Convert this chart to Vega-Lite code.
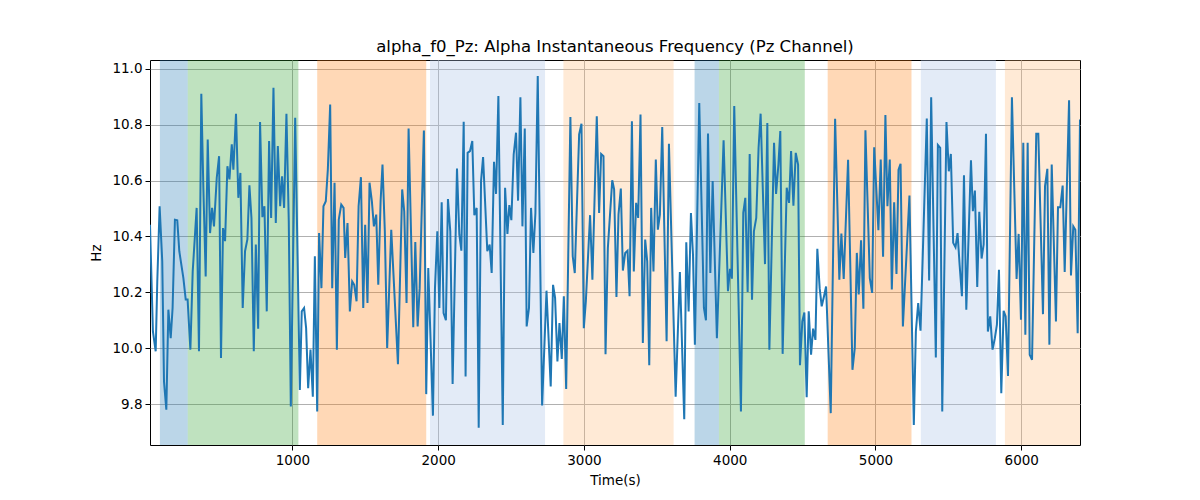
{
  "$schema": "https://vega.github.io/schema/vega-lite/v6.json",
  "width": 930,
  "height": 385,
  "autosize": {"type": "none"},
  "padding": {"left": 150, "top": 60, "right": 120, "bottom": 55},
  "background": "white",
  "title": {
    "text": "alpha_f0_Pz: Alpha Instantaneous Frequency (Pz Channel)",
    "font": "DejaVu Sans",
    "fontSize": 16.5,
    "fontWeight": "normal",
    "color": "black",
    "offset": 5
  },
  "config": {
    "view": {"stroke": "black", "strokeWidth": 1},
    "axis": {
      "labelFont": "DejaVu Sans",
      "labelFontSize": 13.5,
      "labelColor": "black",
      "titleFont": "DejaVu Sans",
      "titleFontSize": 13.5,
      "titleFontWeight": "normal",
      "titleColor": "black",
      "tickColor": "black",
      "tickSize": 5,
      "tickWidth": 1,
      "domain": false,
      "gridColor": "#b0b0b0",
      "gridWidth": 1,
      "labelPadding": 3
    }
  },
  "datasets": {
    "series": [
      {"t":23,"hz":10.442},{"t":43,"hz":10.060},{"t":62,"hz":9.989},{"t":73,"hz":10.239},{"t":89,"hz":10.508},{"t":107,"hz":10.311},{"t":119,"hz":9.881},{"t":135,"hz":9.780},{"t":149,"hz":10.138},{"t":165,"hz":10.036},{"t":178,"hz":10.144},{"t":194,"hz":10.460},{"t":210,"hz":10.458},{"t":224,"hz":10.347},{"t":252,"hz":10.251},{"t":268,"hz":10.174},{"t":281,"hz":10.174},{"t":300,"hz":9.995},{"t":316,"hz":10.275},{"t":343,"hz":10.502},{"t":359,"hz":9.989},{"t":375,"hz":10.910},{"t":389,"hz":10.574},{"t":405,"hz":10.257},{"t":419,"hz":10.747},{"t":435,"hz":10.412},{"t":449,"hz":10.502},{"t":462,"hz":10.436},{"t":481,"hz":10.610},{"t":497,"hz":10.687},{"t":510,"hz":9.965},{"t":524,"hz":10.430},{"t":538,"hz":10.383},{"t":554,"hz":10.651},{"t":568,"hz":10.604},{"t":584,"hz":10.729},{"t":595,"hz":10.639},{"t":613,"hz":10.839},{"t":629,"hz":10.538},{"t":643,"hz":10.627},{"t":659,"hz":10.144},{"t":675,"hz":10.347},{"t":691,"hz":10.389},{"t":705,"hz":10.583},{"t":719,"hz":10.466},{"t":735,"hz":9.989},{"t":749,"hz":10.371},{"t":765,"hz":10.070},{"t":778,"hz":10.809},{"t":794,"hz":10.469},{"t":808,"hz":10.508},{"t":824,"hz":10.132},
      {"t":840,"hz":10.741},{"t":854,"hz":10.466},{"t":870,"hz":10.932},{"t":886,"hz":10.448},{"t":900,"hz":10.723},{"t":916,"hz":10.508},{"t":929,"hz":10.615},{"t":943,"hz":10.502},{"t":959,"hz":10.839},{"t":975,"hz":10.454},{"t":989,"hz":9.792},{"t":1019,"hz":10.824},{"t":1051,"hz":9.851},{"t":1064,"hz":10.132},{"t":1080,"hz":10.144},{"t":1094,"hz":10.072},{"t":1108,"hz":9.857},{"t":1124,"hz":9.995},{"t":1140,"hz":9.827},{"t":1154,"hz":10.329},{"t":1170,"hz":9.774},{"t":1183,"hz":10.412},{"t":1199,"hz":10.215},{"t":1213,"hz":10.508},{"t":1229,"hz":10.526},{"t":1243,"hz":10.639},{"t":1259,"hz":10.872},{"t":1273,"hz":10.215},{"t":1289,"hz":10.592},{"t":1305,"hz":9.995},{"t":1318,"hz":10.460},{"t":1335,"hz":10.514},{"t":1351,"hz":10.502},{"t":1362,"hz":10.323},{"t":1378,"hz":10.448},{"t":1394,"hz":10.132},{"t":1410,"hz":10.239},{"t":1424,"hz":10.227},{"t":1440,"hz":10.168},{"t":1454,"hz":10.508},{"t":1470,"hz":10.612},{"t":1486,"hz":10.144},{"t":1499,"hz":10.442},{"t":1515,"hz":10.162},{"t":1529,"hz":10.592},{"t":1545,"hz":10.526},{"t":1559,"hz":10.436},{"t":1575,"hz":10.478},{"t":1589,"hz":10.227},{"t":1605,"hz":10.526},{"t":1618,"hz":10.657},{"t":1634,"hz":10.418},{"t":1650,"hz":10.001},
      {"t":1678,"hz":10.424},{"t":1724,"hz":9.943},{"t":1753,"hz":10.568},{"t":1767,"hz":10.490},{"t":1783,"hz":10.162},{"t":1797,"hz":10.786},{"t":1829,"hz":10.075},{"t":1843,"hz":10.380},{"t":1859,"hz":10.078},{"t":1873,"hz":10.215},{"t":1902,"hz":10.779},{"t":1918,"hz":9.836},{"t":1932,"hz":10.287},{"t":1964,"hz":9.759},{"t":1978,"hz":10.215},{"t":1994,"hz":10.418},{"t":2008,"hz":10.144},{"t":2024,"hz":10.522},{"t":2037,"hz":10.126},{"t":2053,"hz":10.100},{"t":2067,"hz":10.534},{"t":2083,"hz":10.418},{"t":2099,"hz":9.872},{"t":2129,"hz":10.643},{"t":2145,"hz":10.407},{"t":2159,"hz":10.349},{"t":2175,"hz":10.810},{"t":2188,"hz":9.899},{"t":2202,"hz":10.699},{"t":2218,"hz":10.705},{"t":2234,"hz":10.741},{"t":2248,"hz":10.476},{"t":2264,"hz":10.502},{"t":2278,"hz":9.716},{"t":2294,"hz":10.598},{"t":2308,"hz":10.684},{"t":2337,"hz":10.347},{"t":2353,"hz":10.371},{"t":2367,"hz":10.269},{"t":2383,"hz":10.667},{"t":2397,"hz":10.552},{"t":2413,"hz":10.902},{"t":2443,"hz":9.726},{"t":2459,"hz":10.574},{"t":2475,"hz":10.409},
      {"t":2488,"hz":10.512},{"t":2502,"hz":10.458},{"t":2518,"hz":10.693},{"t":2534,"hz":10.771},{"t":2548,"hz":10.528},{"t":2564,"hz":10.898},{"t":2578,"hz":10.436},{"t":2594,"hz":10.786},{"t":2607,"hz":10.078},{"t":2623,"hz":10.144},{"t":2637,"hz":10.502},{"t":2653,"hz":10.341},{"t":2667,"hz":10.484},{"t":2683,"hz":10.974},{"t":2713,"hz":9.795},{"t":2743,"hz":10.206},{"t":2772,"hz":9.863},{"t":2788,"hz":10.227},{"t":2802,"hz":10.180},{"t":2818,"hz":9.953},{"t":2832,"hz":10.090},{"t":2848,"hz":9.962},{"t":2862,"hz":10.186},{"t":2878,"hz":9.854},{"t":2907,"hz":10.827},{"t":2923,"hz":10.329},{"t":2937,"hz":10.269},{"t":2967,"hz":10.765},{"t":2983,"hz":10.803},{"t":2999,"hz":10.072},{"t":3013,"hz":10.168},{"t":3042,"hz":10.476},{"t":3058,"hz":10.245},{"t":3088,"hz":10.830},{"t":3104,"hz":10.484},{"t":3118,"hz":10.695},{"t":3134,"hz":10.687},{"t":3148,"hz":9.979},{"t":3164,"hz":10.359},{"t":3194,"hz":10.601},{"t":3207,"hz":10.568},{"t":3223,"hz":10.183},{"t":3237,"hz":10.478},{"t":3253,"hz":10.571},{"t":3267,"hz":10.278},{"t":3283,"hz":10.341},{"t":3299,"hz":10.349},
      {"t":3313,"hz":10.186},{"t":3329,"hz":10.812},{"t":3342,"hz":10.275},{"t":3358,"hz":10.520},{"t":3372,"hz":10.466},{"t":3388,"hz":10.836},{"t":3404,"hz":10.019},{"t":3420,"hz":10.389},{"t":3434,"hz":10.311},{"t":3448,"hz":9.939},{"t":3461,"hz":10.502},{"t":3477,"hz":10.275},{"t":3493,"hz":10.675},{"t":3507,"hz":10.424},{"t":3521,"hz":10.478},{"t":3537,"hz":10.791},{"t":3567,"hz":10.025},{"t":3583,"hz":10.731},{"t":3629,"hz":9.827},{"t":3658,"hz":10.273},{"t":3688,"hz":9.746},{"t":3702,"hz":10.379},{"t":3718,"hz":10.132},{"t":3734,"hz":10.484},{"t":3748,"hz":10.335},{"t":3761,"hz":10.013},{"t":3791,"hz":10.877},{"t":3823,"hz":10.144},{"t":3837,"hz":10.100},{"t":3851,"hz":10.768},{"t":3867,"hz":10.269},{"t":3883,"hz":10.598},{"t":3912,"hz":10.036},{"t":3958,"hz":10.744},{"t":3988,"hz":10.204},{"t":4002,"hz":10.284},{"t":4015,"hz":10.249},{"t":4031,"hz":10.866},{"t":4077,"hz":9.774},{"t":4093,"hz":10.484},{"t":4107,"hz":10.538},{"t":4123,"hz":10.201},
      {"t":4137,"hz":10.695},{"t":4153,"hz":10.174},{"t":4166,"hz":10.418},{"t":4182,"hz":10.466},{"t":4198,"hz":10.717},{"t":4212,"hz":10.839},{"t":4242,"hz":10.301},{"t":4258,"hz":10.806},{"t":4272,"hz":9.995},{"t":4304,"hz":10.735},{"t":4318,"hz":10.552},{"t":4334,"hz":10.657},{"t":4347,"hz":10.777},{"t":4363,"hz":9.980},{"t":4391,"hz":10.574},{"t":4407,"hz":10.520},{"t":4421,"hz":10.705},{"t":4437,"hz":10.510},{"t":4453,"hz":10.699},{"t":4469,"hz":10.657},{"t":4482,"hz":9.939},{"t":4498,"hz":10.096},{"t":4512,"hz":10.128},{"t":4528,"hz":9.825},{"t":4542,"hz":10.132},{"t":4558,"hz":9.977},{"t":4572,"hz":10.070},{"t":4588,"hz":10.030},{"t":4601,"hz":10.356},{"t":4617,"hz":10.215},{"t":4631,"hz":10.150},{"t":4647,"hz":10.186},{"t":4661,"hz":10.221},{"t":4693,"hz":9.768},{"t":4723,"hz":10.821},{"t":4752,"hz":10.245},{"t":4766,"hz":10.410},{"t":4782,"hz":10.248},{"t":4812,"hz":10.674},{"t":4842,"hz":9.923},{"t":4858,"hz":10.001},{"t":4872,"hz":10.341},{"t":4885,"hz":10.192},{"t":4901,"hz":10.386},{"t":4917,"hz":10.141},{"t":4931,"hz":10.780},
      {"t":4961,"hz":10.251},{"t":4977,"hz":10.198},{"t":4991,"hz":10.719},{"t":5020,"hz":10.422},{"t":5036,"hz":10.675},{"t":5052,"hz":10.327},{"t":5068,"hz":10.834},{"t":5082,"hz":10.508},{"t":5098,"hz":10.675},{"t":5112,"hz":10.210},{"t":5128,"hz":10.522},{"t":5144,"hz":10.266},{"t":5158,"hz":10.639},{"t":5172,"hz":10.660},{"t":5188,"hz":10.078},{"t":5233,"hz":10.546},{"t":5263,"hz":9.726},{"t":5277,"hz":10.060},{"t":5293,"hz":10.162},{"t":5309,"hz":10.063},{"t":5352,"hz":10.822},{"t":5368,"hz":10.242},{"t":5382,"hz":10.898},{"t":5414,"hz":9.967},{"t":5428,"hz":10.727},{"t":5444,"hz":10.717},{"t":5458,"hz":9.774},{"t":5487,"hz":10.809},{"t":5503,"hz":10.633},{"t":5517,"hz":10.695},{"t":5533,"hz":10.377},{"t":5549,"hz":10.361},{"t":5563,"hz":10.412},{"t":5577,"hz":10.299},{"t":5593,"hz":10.186},{"t":5607,"hz":10.619},{"t":5623,"hz":10.138},{"t":5655,"hz":10.672},{"t":5668,"hz":10.490},{"t":5682,"hz":10.564},{"t":5698,"hz":10.219},{"t":5712,"hz":10.488},{"t":5728,"hz":10.321},{"t":5742,"hz":10.371},{"t":5758,"hz":10.767},{"t":5771,"hz":10.060},
      {"t":5787,"hz":10.114},{"t":5803,"hz":9.995},{"t":5819,"hz":10.036},{"t":5833,"hz":10.084},{"t":5847,"hz":10.281},{"t":5863,"hz":9.839},{"t":5879,"hz":10.134},{"t":5893,"hz":10.114},{"t":5909,"hz":9.901},{"t":5936,"hz":10.898},{"t":5968,"hz":10.248},{"t":5982,"hz":10.409},{"t":5998,"hz":10.102},{"t":6014,"hz":10.735},{"t":6028,"hz":10.048},{"t":6044,"hz":10.735},{"t":6058,"hz":9.977},{"t":6074,"hz":9.959},{"t":6103,"hz":10.767},{"t":6117,"hz":10.767},{"t":6149,"hz":10.122},{"t":6163,"hz":10.580},{"t":6179,"hz":10.642},{"t":6193,"hz":10.013},{"t":6209,"hz":10.657},{"t":6238,"hz":10.096},{"t":6252,"hz":10.504},{"t":6268,"hz":10.504},{"t":6284,"hz":10.582},{"t":6298,"hz":10.273},{"t":6328,"hz":10.887},{"t":6341,"hz":10.260},{"t":6357,"hz":10.436},{"t":6371,"hz":10.424},{"t":6387,"hz":10.054},{"t":6403,"hz":10.818}
    ],
    "bands": [
      {"start": 91, "end": 282, "stage": "S1"},
      {"start": 282, "end": 1041, "stage": "S2"},
      {"start": 1170, "end": 1918, "stage": "S3"},
      {"start": 1944, "end": 2733, "stage": "S4"},
      {"start": 2859, "end": 3615, "stage": "S5"},
      {"start": 3759, "end": 3926, "stage": "S1"},
      {"start": 3926, "end": 4515, "stage": "S2"},
      {"start": 4672, "end": 5247, "stage": "S3"},
      {"start": 5311, "end": 5826, "stage": "S4"},
      {"start": 5888, "end": 6403, "stage": "S5"}
    ]
  },
  "layer": [
    {
      "data": {"name": "bands"},
      "mark": {"type": "rect", "clip": true},
      "encoding": {
        "x": {"field": "start", "type": "quantitative", "scale": {"domain": [23, 6403], "nice": false, "zero": false},
              "axis": {"values": [1000, 2000, 3000, 4000, 5000, 6000], "format": "d", "title": "Time(s)", "titlePadding": 7}},
        "x2": {"field": "end"},
        "color": {"field": "stage", "type": "nominal", "legend": null,
                  "scale": {"domain": ["S1", "S2", "S3", "S4", "S5"],
                            "range": ["rgba(31,119,180,0.3)", "rgba(44,160,44,0.3)", "rgba(255,127,14,0.3)", "rgba(174,199,232,0.35)", "rgba(255,187,120,0.3)"]}}
      }
    },
    {
      "data": {"name": "series"},
      "mark": {"type": "line", "color": "#1f77b4", "strokeWidth": 2, "clip": true},
      "encoding": {
        "x": {"field": "t", "type": "quantitative"},
        "y": {"field": "hz", "type": "quantitative", "scale": {"domain": [9.654, 11.031], "nice": false, "zero": false},
              "axis": {"values": [9.8, 10.0, 10.2, 10.4, 10.6, 10.8, 11.0], "format": ".1f", "title": "Hz", "titlePadding": 8}}
      }
    }
  ]
}
